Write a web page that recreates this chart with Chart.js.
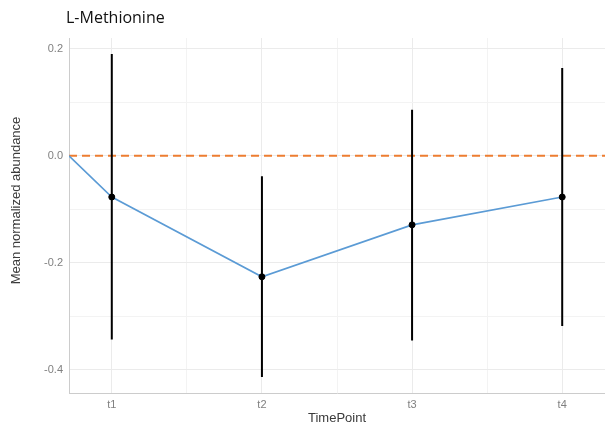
<!DOCTYPE html>
<html>
<head>
<meta charset="utf-8">
<script src="https://cdn.jsdelivr.net/npm/chart.js@4"></script>
<style>
    html, body { margin: 0; padding: 0; background: #fff; }
    #wrap { position: relative; width: 605px; height: 428px; }
    #title { position: absolute; left: 66px; top: 6px; font: 16px "Open Sans", sans-serif; color: #111; }
</style>
</head>
<body>
<div id="wrap">
    <div id="title">L-Methionine</div>
    <canvas id="graph" width="605" height="428"></canvas>
</div>
<script>
"use strict";
const TIMEPOINTS = ["t1", "t2", "t3", "t4"];
const MEANS = [-0.077, -0.226, -0.129, -0.077];
const ERR_UPPER = [0.19, -0.038, 0.086, 0.164];
const ERR_LOWER = [-0.343, -0.413, -0.345, -0.318];
const REF_LINE = 0;
const START_VALUE = 0;

const X_MIN = 0.715, X_MAX = 4.285;
const Y_MIN = -0.443, Y_MAX = 0.22;
const Y_TITLE = "Mean normalized abundance";

function isMajorY(v) {
    return Math.abs(Math.round(v * 10)) % 2 === 0;
}

// y axis title sits a bit above the panel centre in the original
const yTitlePlugin = {
    id: "yTitle",
    afterDraw: function (chart) {
        const ctx = chart.ctx;
        ctx.save();
        ctx.translate(16, 200.5);
        ctx.rotate(-Math.PI / 2);
        ctx.font = '13px "Liberation Sans"';
        ctx.fillStyle = "#3a3a3a";
        ctx.textAlign = "center";
        ctx.textBaseline = "middle";
        ctx.fillText(Y_TITLE, 0, 0);
        ctx.restore();
    },
};

function drawGraph() {
    const errorBars = TIMEPOINTS.map(function (t, i) {
        return {
            label: "err " + t,
            data: [{ x: i + 1, y: ERR_UPPER[i] }, { x: i + 1, y: ERR_LOWER[i] }],
            showLine: true,
            borderColor: "#000",
            borderWidth: 2,
            pointRadius: 0,
            order: 2,
        };
    });
    const data = {
        datasets: [
            {
                label: "mean points",
                data: MEANS.map(function (m, i) { return { x: i + 1, y: m }; }),
                showLine: false,
                pointRadius: 3,
                pointBorderWidth: 1,
                pointBackgroundColor: "#000",
                pointBorderColor: "#000",
                order: 0,
            },
            {
                label: "mean",
                data: [{ x: X_MIN, y: START_VALUE }].concat(
                    MEANS.map(function (m, i) { return { x: i + 1, y: m }; })
                ),
                showLine: true,
                borderColor: "#5b9bd5",
                borderWidth: 1.6,
                pointRadius: 0,
                order: 1,
            },
            ...errorBars,
            {
                label: "zero",
                data: [{ x: X_MIN, y: REF_LINE }, { x: X_MAX, y: REF_LINE }],
                showLine: true,
                borderColor: "#ed7d31",
                borderWidth: 2,
                borderDash: [8, 5],
                pointRadius: 0,
                order: 3,
            },
        ],
    };
    const config = {
        type: "scatter",
        data,
        plugins: [yTitlePlugin],
        options: {
            responsive: false,
            animation: false,
            layout: { autoPadding: false, padding: { top: 38, left: 0, right: 0, bottom: 0 } },
            plugins: { legend: { display: false }, tooltip: { enabled: false } },
            scales: {
                x: {
                    type: "linear",
                    min: X_MIN,
                    max: X_MAX,
                    afterFit: function (scale) { scale.height = 35; },
                    border: { display: true, color: "#cccccc", width: 1 },
                    grid: {
                        drawTicks: false,
                        color: function (ctx) {
                            return Number.isInteger(ctx.tick.value) ? "#ebebeb" : "#f3f3f3";
                        },
                    },
                    ticks: {
                        stepSize: 0.5,
                        includeBounds: false,
                        autoSkip: false,
                        maxRotation: 0,
                        padding: 5,
                        color: "#808080",
                        font: { family: "Liberation Sans", size: 11 },
                        callback: function (value) {
                            return Number.isInteger(value) ? TIMEPOINTS[value - 1] : "";
                        },
                    },
                    title: {
                        display: true,
                        text: "TimePoint",
                        color: "#3a3a3a",
                        font: { family: "Liberation Sans", size: 13, lineHeight: 1.2 },
                        padding: { top: 0, bottom: 1.5 },
                    },
                },
                y: {
                    type: "linear",
                    min: Y_MIN,
                    max: Y_MAX,
                    afterFit: function (scale) { scale.width = 69; },
                    border: { display: true, color: "#cccccc", width: 1 },
                    grid: {
                        drawTicks: false,
                        color: function (ctx) {
                            return isMajorY(ctx.tick.value) ? "#ebebeb" : "#f3f3f3";
                        },
                    },
                    ticks: {
                        stepSize: 0.1,
                        includeBounds: false,
                        autoSkip: false,
                        padding: 6,
                        color: "#808080",
                        font: { family: "Liberation Sans", size: 11 },
                        callback: function (value) {
                            return isMajorY(value) ? value.toFixed(1) : "";
                        },
                    },
                },
            },
        },
    };
    new Chart(document.getElementById("graph"), config);
}

drawGraph();
</script>
</body>
</html>
